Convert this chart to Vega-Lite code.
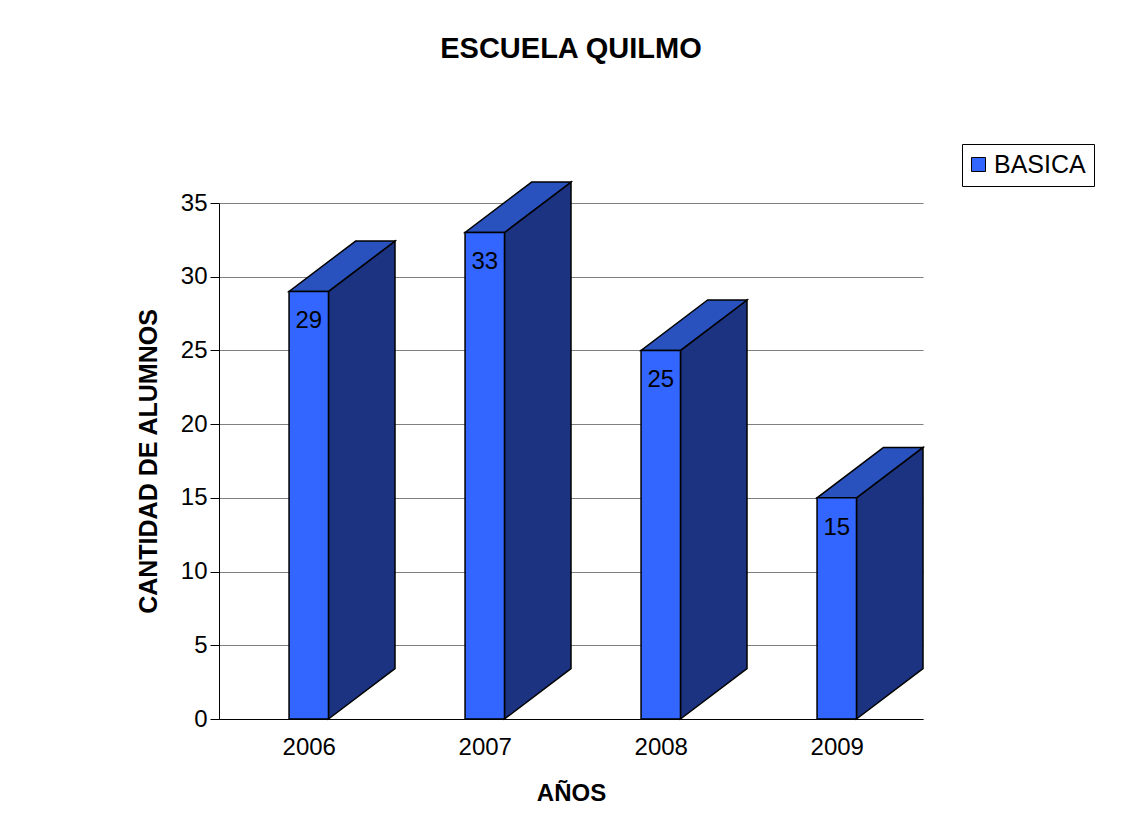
{
  "$schema": "https://vega.github.io/schema/vega-lite/v6.json",
  "width": 704,
  "height": 516,
  "autosize": {"type": "none"},
  "padding": {"left": 219, "top": 203, "right": 202, "bottom": 102},
  "background": "white",
  "title": {
    "text": "ESCUELA QUILMO",
    "font": "Liberation Sans",
    "fontSize": 29,
    "fontWeight": "bold",
    "color": "black",
    "anchor": "middle",
    "frame": "group",
    "offset": 80
  },
  "data": {
    "values": [
      {"year": 2006, "alumnos": 29, "serie": "BASICA"},
      {"year": 2007, "alumnos": 33, "serie": "BASICA"},
      {"year": 2008, "alumnos": 25, "serie": "BASICA"},
      {"year": 2009, "alumnos": 15, "serie": "BASICA"}
    ]
  },
  "transform": [
    {"calculate": "datum.year - 0.112", "as": "xl"},
    {"calculate": "datum.year + 0.112", "as": "xr"},
    {"calculate": "datum.year + 0.49", "as": "xb"},
    {"calculate": "datum.alumnos + 3.42", "as": "atop"}
  ],
  "layer": [
    {
      "transform": [
        {"fold": ["xr", "xb"], "as": ["corner", "xpos"]},
        {"calculate": "datum.corner == 'xb' ? 3.42 : 0", "as": "dep"},
        {"calculate": "datum.alumnos + datum.dep", "as": "ytop"}
      ],
      "mark": {"type": "area", "fill": "#1B3380", "stroke": "black", "strokeWidth": 1.5, "opacity": 1, "strokeJoin": "miter"},
      "encoding": {
        "x": {"field": "xpos", "type": "quantitative", "title": "AÑOS", "scale": {"domain": [2005.49, 2009.49], "nice": false, "zero": false}, "axis": {"values": [2006, 2007, 2008, 2009], "format": "d"}},
        "y": {"field": "dep", "type": "quantitative", "title": "CANTIDAD DE ALUMNOS", "scale": {"domain": [0, 35], "nice": false, "zero": true}, "axis": {"values": [0, 5, 10, 15, 20, 25, 30, 35]}},
        "y2": {"field": "ytop"},
        "detail": {"field": "year"}
      }
    },
    {
      "transform": [
        {"fold": ["alumnos", "atop"], "as": ["lvl", "yy"]},
        {"calculate": "datum.lvl == 'atop' ? 0.378 : 0", "as": "sx"},
        {"calculate": "datum.xl + datum.sx", "as": "tx1"},
        {"calculate": "datum.xr + datum.sx", "as": "tx2"}
      ],
      "mark": {"type": "area", "orient": "horizontal", "fill": "#2A52BE", "stroke": "black", "strokeWidth": 1.5, "opacity": 1, "strokeJoin": "miter"},
      "encoding": {
        "y": {"field": "yy", "type": "quantitative", "title": "CANTIDAD DE ALUMNOS", "scale": {"domain": [0, 35], "nice": false, "zero": true}},
        "x": {"field": "tx1", "type": "quantitative", "title": "AÑOS", "scale": {"domain": [2005.49, 2009.49], "nice": false, "zero": false}},
        "x2": {"field": "tx2"},
        "detail": {"field": "year"}
      }
    },
    {
      "mark": {"type": "rect", "stroke": "black", "strokeWidth": 1.5, "opacity": 1},
      "encoding": {
        "x": {"field": "xl", "type": "quantitative", "title": "AÑOS", "scale": {"domain": [2005.49, 2009.49], "nice": false, "zero": false}},
        "x2": {"field": "xr"},
        "y": {"field": "alumnos", "type": "quantitative", "title": "CANTIDAD DE ALUMNOS", "scale": {"domain": [0, 35], "nice": false, "zero": true}},
        "y2": {"datum": 0},
        "color": {
          "field": "serie",
          "type": "nominal",
          "scale": {"range": ["#3366FF"]},
          "legend": {"title": null, "orient": "none", "legendX": 743, "legendY": -59}
        }
      }
    },
    {
      "mark": {"type": "text", "baseline": "top", "align": "center", "dy": 18, "font": "Liberation Sans", "fontSize": 24, "color": "black"},
      "encoding": {
        "x": {"field": "year", "type": "quantitative", "title": "AÑOS", "scale": {"domain": [2005.49, 2009.49], "nice": false, "zero": false}},
        "y": {"field": "alumnos", "type": "quantitative", "title": "CANTIDAD DE ALUMNOS", "scale": {"domain": [0, 35], "nice": false, "zero": true}},
        "text": {"field": "alumnos", "type": "quantitative"}
      }
    }
  ],
  "config": {
    "view": {"stroke": null},
    "axis": {"labelFont": "Liberation Sans", "titleFont": "Liberation Sans", "labelColor": "black", "titleColor": "black"},
    "axisY": {
      "grid": true, "gridColor": "#808080", "gridWidth": 1,
      "domainColor": "black", "domainWidth": 1,
      "tickColor": "black", "tickSize": 9, "tickWidth": 1,
      "labelPadding": 3, "labelFontSize": 24,
      "titleFontSize": 25, "titleFontWeight": "bold", "titlePadding": 19
    },
    "axisX": {
      "grid": false, "ticks": false, "tickSize": 0,
      "domainColor": "black", "domainWidth": 1,
      "labelFontSize": 24, "labelPadding": 16,
      "titleFontSize": 24, "titleFontWeight": "bold", "titlePadding": 22
    },
    "legend": {
      "strokeColor": "black", "strokeWidth": 1, "padding": 8, "fillColor": "white",
      "labelFont": "Liberation Sans", "labelFontSize": 25, "labelColor": "black", "labelOffset": 3,
      "symbolOffset": -4,
      "symbolType": "square", "symbolSize": 196, "symbolStrokeColor": "black", "symbolStrokeWidth": 1
    }
  }
}
